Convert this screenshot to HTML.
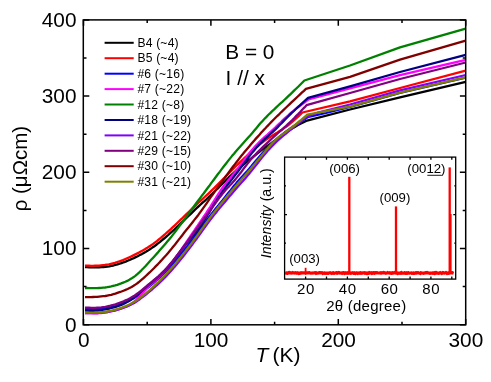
<!DOCTYPE html>
<html><head><meta charset="utf-8"><title>rho(T)</title>
<style>
html,body{margin:0;padding:0;background:#fff;}
body{width:491px;height:382px;overflow:hidden;font-family:"Liberation Sans",sans-serif;}
svg{display:block;will-change:transform;}
svg text{font-family:"Liberation Sans",sans-serif;}
</style></head><body>
<svg width="491" height="382" viewBox="0 0 491 382">
<rect width="491" height="382" fill="#fff"/>
<g fill="none" stroke-width="2.3" stroke-linejoin="round" stroke-linecap="butt">
<path d="M85.0 267.2 L87.0 267.2 L89.1 267.3 L91.1 267.3 L93.1 267.4 L95.1 267.4 L97.2 267.4 L99.2 267.3 L101.2 267.2 L103.3 267.1 L105.3 266.9 L107.3 266.6 L109.3 266.3 L111.4 265.9 L113.4 265.5 L115.4 264.9 L117.5 264.4 L119.5 263.7 L121.5 263.1 L123.5 262.3 L125.6 261.6 L127.6 260.7 L129.6 259.9 L131.7 259.0 L133.7 258.1 L135.7 257.1 L137.7 256.2 L139.8 255.1 L141.8 254.1 L143.8 253.0 L145.9 251.8 L147.9 250.6 L149.9 249.3 L151.9 247.9 L154.0 246.5 L156.0 245.0 L158.0 243.4 L160.1 241.8 L162.1 240.2 L164.1 238.5 L166.1 236.8 L168.2 235.0 L170.2 233.2 L172.2 231.4 L174.3 229.6 L176.3 227.7 L178.3 225.8 L180.3 223.9 L182.4 221.9 L184.4 220.0 L186.4 218.0 L188.5 216.0 L190.5 214.1 L192.5 212.1 L194.5 210.1 L196.6 208.2 L198.6 206.3 L200.6 204.5 L202.6 202.6 L204.7 200.8 L206.7 199.0 L208.7 197.1 L210.8 195.2 L212.8 193.3 L214.8 191.3 L216.8 189.3 L218.9 187.3 L220.9 185.3 L222.9 183.3 L225.0 181.2 L227.0 179.2 L229.0 177.2 L231.0 175.3 L233.1 173.4 L235.1 171.5 L237.1 169.7 L239.2 168.0 L241.2 166.3 L243.2 164.7 L245.2 163.1 L247.3 161.5 L249.3 159.9 L251.3 158.3 L253.4 156.6 L255.4 155.0 L257.4 153.4 L259.4 151.8 L261.5 150.2 L263.5 148.7 L265.5 147.2 L267.6 145.8 L269.6 144.4 L271.6 143.0 L273.6 141.5 L275.7 140.1 L277.7 138.6 L279.7 137.0 L281.8 135.5 L283.8 134.0 L285.8 132.6 L287.8 131.2 L289.9 129.8 L291.9 128.6 L293.9 127.4 L296.0 126.2 L298.0 125.1 L300.0 124.0 L302.0 123.0 L304.1 121.9 L306.1 120.9 L350.0 109.5 L400.0 97.4 L465.7 81.8" stroke="#000000"/>
<path d="M85.0 265.7 L87.0 265.7 L89.0 265.7 L91.0 265.8 L93.0 265.8 L95.0 265.7 L97.0 265.7 L99.0 265.6 L101.0 265.4 L103.0 265.2 L104.9 265.0 L106.9 264.6 L108.9 264.3 L110.9 263.8 L112.9 263.3 L114.9 262.8 L116.9 262.2 L118.9 261.5 L120.9 260.8 L122.9 260.1 L124.9 259.2 L126.9 258.4 L128.9 257.5 L130.9 256.6 L132.9 255.6 L134.9 254.6 L136.9 253.6 L138.9 252.6 L140.8 251.5 L142.8 250.4 L144.8 249.3 L146.8 248.1 L148.8 246.8 L150.8 245.5 L152.8 244.1 L154.8 242.6 L156.8 241.1 L158.8 239.5 L160.8 237.9 L162.8 236.2 L164.8 234.5 L166.8 232.7 L168.8 230.9 L170.8 229.1 L172.8 227.2 L174.8 225.4 L176.7 223.5 L178.7 221.6 L180.7 219.7 L182.7 217.8 L184.7 215.8 L186.7 213.9 L188.7 212.0 L190.7 210.1 L192.7 208.2 L194.7 206.3 L196.7 204.4 L198.7 202.5 L200.7 200.7 L202.7 198.8 L204.7 197.0 L206.7 195.2 L208.7 193.3 L210.7 191.4 L212.6 189.5 L214.6 187.6 L216.6 185.6 L218.6 183.6 L220.6 181.6 L222.6 179.6 L224.6 177.6 L226.6 175.5 L228.6 173.5 L230.6 171.5 L232.6 169.5 L234.6 167.5 L236.6 165.5 L238.6 163.6 L240.6 161.7 L242.6 159.8 L244.6 157.9 L246.6 156.1 L248.5 154.3 L250.5 152.5 L252.5 150.7 L254.5 148.9 L256.5 147.2 L258.5 145.5 L260.5 143.9 L262.5 142.3 L264.5 140.8 L266.5 139.4 L268.5 138.1 L270.5 136.8 L272.5 135.5 L274.5 134.3 L276.5 133.1 L278.5 131.8 L280.5 130.6 L282.5 129.3 L284.4 127.9 L286.4 126.5 L288.4 125.0 L290.4 123.4 L292.4 121.7 L294.4 119.9 L296.4 118.1 L298.4 116.3 L300.4 114.4 L302.4 112.5 L350.0 101.3 L400.0 88.0 L465.7 70.7" stroke="#ff0000"/>
<path d="M85.0 309.0 L87.1 309.0 L89.1 309.1 L91.2 309.1 L93.2 309.1 L95.3 309.1 L97.3 309.1 L99.4 309.0 L101.4 308.8 L103.5 308.6 L105.5 308.3 L107.6 308.0 L109.6 307.6 L111.7 307.1 L113.7 306.6 L115.8 306.0 L117.8 305.3 L119.9 304.6 L121.9 303.9 L124.0 303.0 L126.0 302.2 L128.1 301.2 L130.1 300.2 L132.2 299.1 L134.2 297.9 L136.3 296.6 L138.3 295.1 L140.4 293.6 L142.4 292.0 L144.5 290.4 L146.5 288.7 L148.6 287.0 L150.6 285.3 L152.7 283.6 L154.7 281.8 L156.8 280.0 L158.8 278.2 L160.9 276.3 L162.9 274.3 L165.0 272.2 L167.0 270.1 L169.1 268.0 L171.1 265.7 L173.2 263.4 L175.2 261.0 L177.3 258.6 L179.3 256.1 L181.4 253.6 L183.4 251.0 L185.5 248.5 L187.5 245.9 L189.6 243.3 L191.6 240.7 L193.7 238.1 L195.7 235.4 L197.8 232.6 L199.8 229.9 L201.9 227.0 L203.9 224.2 L206.0 221.3 L208.0 218.5 L210.1 215.7 L212.1 213.1 L214.2 210.5 L216.2 207.9 L218.3 205.4 L220.3 202.9 L222.4 200.4 L224.4 197.9 L226.5 195.3 L228.5 192.8 L230.6 190.2 L232.6 187.6 L234.7 185.1 L236.7 182.6 L238.8 180.3 L240.8 178.0 L242.9 175.7 L244.9 173.5 L247.0 171.2 L249.0 168.9 L251.1 166.5 L253.1 164.1 L255.2 161.6 L257.2 159.2 L259.3 156.7 L261.3 154.4 L263.4 152.0 L265.4 149.8 L267.5 147.7 L269.5 145.6 L271.6 143.7 L273.6 141.7 L275.7 139.9 L277.7 138.1 L279.8 136.4 L281.8 134.8 L283.9 133.2 L285.9 131.6 L288.0 130.1 L290.0 128.7 L292.1 127.3 L294.1 125.9 L296.2 124.5 L298.2 123.2 L300.3 121.9 L302.3 120.6 L304.4 119.3 L306.4 118.1 L308.5 116.8 L326.0 113.0 L350.0 107.0 L400.0 92.9 L465.7 77.6" stroke="#0000ff"/>
<path d="M85.0 313.1 L87.1 313.1 L89.1 313.2 L91.2 313.2 L93.2 313.3 L95.3 313.3 L97.3 313.3 L99.4 313.2 L101.4 313.0 L103.5 312.7 L105.5 312.4 L107.6 312.1 L109.6 311.7 L111.7 311.2 L113.7 310.7 L115.8 310.2 L117.8 309.6 L119.9 308.9 L121.9 308.2 L124.0 307.5 L126.0 306.6 L128.1 305.7 L130.1 304.6 L132.2 303.3 L134.2 301.7 L136.3 299.9 L138.3 297.8 L140.4 295.6 L142.4 293.3 L144.5 290.9 L146.5 288.7 L148.6 286.6 L150.6 284.6 L152.7 282.7 L154.7 280.9 L156.8 279.0 L158.8 277.1 L160.9 275.1 L162.9 273.0 L165.0 270.8 L167.0 268.4 L169.1 266.0 L171.1 263.4 L173.2 260.7 L175.2 258.0 L177.3 255.2 L179.3 252.3 L181.4 249.4 L183.4 246.5 L185.5 243.5 L187.5 240.5 L189.6 237.5 L191.6 234.5 L193.7 231.5 L195.7 228.4 L197.8 225.4 L199.8 222.4 L201.9 219.4 L203.9 216.4 L206.0 213.3 L208.0 210.2 L210.1 207.1 L212.1 203.9 L214.2 200.6 L216.2 197.4 L218.3 194.1 L220.3 191.0 L222.4 188.0 L224.4 185.1 L226.5 182.5 L228.5 179.9 L230.6 177.5 L232.6 175.0 L234.7 172.6 L236.7 170.0 L238.8 167.4 L240.8 164.6 L242.9 161.8 L244.9 159.0 L247.0 156.3 L249.0 153.6 L251.1 151.1 L253.1 148.7 L255.2 146.4 L257.2 144.2 L259.3 142.1 L261.3 140.1 L263.4 138.2 L265.4 136.3 L267.5 134.5 L269.5 132.6 L271.6 130.8 L273.6 129.0 L275.7 127.1 L277.7 125.1 L279.8 123.2 L281.8 121.2 L283.9 119.2 L285.9 117.3 L288.0 115.5 L290.0 113.7 L292.1 111.9 L294.1 110.3 L296.2 108.6 L298.2 107.0 L300.3 105.5 L302.3 104.0 L304.4 102.5 L306.4 101.0 L308.5 99.5 L350.0 88.4 L400.0 75.2 L465.7 59.8" stroke="#ff00ff"/>
<path d="M85.0 288.0 L87.0 288.0 L89.0 288.1 L91.0 288.1 L93.1 288.1 L95.1 288.1 L97.1 288.1 L99.1 288.0 L101.1 287.9 L103.1 287.7 L105.1 287.5 L107.1 287.2 L109.2 286.8 L111.2 286.4 L113.2 285.9 L115.2 285.4 L117.2 284.8 L119.2 284.1 L121.2 283.4 L123.2 282.6 L125.3 281.8 L127.3 280.9 L129.3 279.8 L131.3 278.6 L133.3 277.3 L135.3 275.8 L137.3 274.1 L139.3 272.3 L141.4 270.3 L143.4 268.3 L145.4 266.2 L147.4 264.0 L149.4 261.8 L151.4 259.6 L153.4 257.4 L155.4 255.2 L157.5 252.9 L159.5 250.6 L161.5 248.3 L163.5 246.0 L165.5 243.7 L167.5 241.3 L169.5 238.9 L171.6 236.4 L173.6 233.9 L175.6 231.3 L177.6 228.6 L179.6 225.9 L181.6 223.2 L183.6 220.5 L185.6 217.7 L187.7 215.0 L189.7 212.2 L191.7 209.5 L193.7 206.8 L195.7 204.0 L197.7 201.3 L199.7 198.6 L201.7 195.9 L203.8 193.2 L205.8 190.5 L207.8 187.8 L209.8 185.2 L211.8 182.4 L213.8 179.7 L215.8 177.0 L217.8 174.3 L219.9 171.6 L221.9 168.9 L223.9 166.3 L225.9 163.7 L227.9 161.1 L229.9 158.6 L231.9 156.1 L234.0 153.7 L236.0 151.3 L238.0 149.0 L240.0 146.8 L242.0 144.6 L244.0 142.3 L246.0 140.1 L248.0 137.8 L250.1 135.5 L252.1 133.2 L254.1 130.8 L256.1 128.4 L258.1 126.0 L260.1 123.6 L262.1 121.4 L264.1 119.2 L266.2 117.1 L268.2 115.0 L270.2 113.1 L272.2 111.1 L274.2 109.3 L276.2 107.4 L278.2 105.5 L280.2 103.7 L282.3 101.9 L284.3 100.0 L286.3 98.1 L288.3 96.2 L290.3 94.3 L292.3 92.4 L294.3 90.4 L296.3 88.5 L298.4 86.5 L300.4 84.5 L302.4 82.5 L304.4 80.5 L350.0 65.5 L400.0 47.4 L465.7 28.7" stroke="#008000"/>
<path d="M85.0 310.8 L87.0 310.8 L89.1 310.8 L91.1 310.8 L93.2 310.8 L95.2 310.7 L97.3 310.6 L99.3 310.3 L101.4 310.1 L103.4 309.7 L105.5 309.4 L107.5 308.9 L109.6 308.5 L111.6 308.0 L113.7 307.4 L115.7 306.8 L117.7 306.2 L119.8 305.4 L121.8 304.6 L123.9 303.6 L125.9 302.6 L128.0 301.4 L130.0 300.2 L132.1 298.8 L134.1 297.3 L136.2 295.7 L138.2 294.0 L140.3 292.2 L142.3 290.4 L144.4 288.6 L146.4 286.8 L148.5 285.0 L150.5 283.3 L152.5 281.6 L154.6 279.9 L156.6 278.2 L158.7 276.4 L160.7 274.5 L162.8 272.5 L164.8 270.5 L166.9 268.3 L168.9 266.0 L171.0 263.6 L173.0 261.1 L175.1 258.4 L177.1 255.7 L179.2 253.0 L181.2 250.2 L183.2 247.6 L185.3 245.0 L187.3 242.5 L189.4 240.2 L191.4 237.8 L193.5 235.5 L195.5 233.0 L197.6 230.4 L199.6 227.6 L201.7 224.6 L203.7 221.4 L205.8 218.0 L207.8 214.7 L209.9 211.3 L211.9 207.9 L213.9 204.6 L216.0 201.3 L218.0 198.2 L220.1 195.1 L222.1 192.1 L224.2 189.3 L226.2 186.5 L228.3 183.8 L230.3 181.2 L232.4 178.6 L234.4 176.0 L236.5 173.4 L238.5 170.7 L240.6 167.9 L242.6 165.2 L244.6 162.4 L246.7 159.7 L248.7 157.0 L250.8 154.4 L252.8 151.9 L254.9 149.4 L256.9 147.1 L259.0 144.8 L261.0 142.7 L263.1 140.6 L265.1 138.7 L267.2 136.8 L269.2 135.0 L271.3 133.2 L273.3 131.3 L275.4 129.4 L277.4 127.4 L279.4 125.3 L281.5 123.2 L283.5 121.1 L285.6 119.0 L287.6 117.0 L289.7 114.9 L291.7 112.9 L293.8 111.0 L295.8 109.0 L297.9 107.1 L299.9 105.3 L302.0 103.4 L304.0 101.5 L306.1 99.7 L308.1 97.8 L350.0 86.3 L400.0 72.0 L465.7 54.9" stroke="#000080"/>
<path d="M85.0 313.0 L87.0 313.0 L89.1 313.0 L91.1 313.1 L93.1 313.1 L95.2 313.1 L97.2 313.0 L99.2 312.9 L101.2 312.7 L103.3 312.5 L105.3 312.3 L107.3 312.0 L109.4 311.6 L111.4 311.2 L113.4 310.8 L115.5 310.3 L117.5 309.7 L119.5 309.1 L121.5 308.5 L123.6 307.8 L125.6 307.0 L127.6 306.2 L129.7 305.3 L131.7 304.3 L133.7 303.2 L135.8 302.0 L137.8 300.6 L139.8 299.2 L141.8 297.7 L143.9 296.1 L145.9 294.5 L147.9 292.9 L150.0 291.2 L152.0 289.5 L154.0 287.7 L156.1 285.9 L158.1 284.1 L160.1 282.2 L162.2 280.2 L164.2 278.2 L166.2 276.1 L168.2 274.0 L170.3 271.8 L172.3 269.5 L174.3 267.1 L176.4 264.8 L178.4 262.3 L180.4 259.8 L182.5 257.3 L184.5 254.7 L186.5 252.1 L188.5 249.5 L190.6 246.8 L192.6 244.2 L194.6 241.4 L196.7 238.7 L198.7 235.9 L200.7 233.1 L202.8 230.2 L204.8 227.4 L206.8 224.6 L208.8 221.8 L210.9 219.1 L212.9 216.5 L214.9 213.9 L217.0 211.4 L219.0 208.9 L221.0 206.5 L223.1 204.1 L225.1 201.7 L227.1 199.2 L229.1 196.8 L231.2 194.4 L233.2 192.0 L235.2 189.7 L237.3 187.3 L239.3 185.0 L241.3 182.8 L243.4 180.5 L245.4 178.2 L247.4 175.8 L249.5 173.4 L251.5 170.9 L253.5 168.4 L255.5 165.8 L257.6 163.2 L259.6 160.6 L261.6 158.1 L263.7 155.6 L265.7 153.2 L267.7 150.8 L269.8 148.6 L271.8 146.4 L273.8 144.4 L275.8 142.4 L277.9 140.5 L279.9 138.7 L281.9 136.9 L284.0 135.2 L286.0 133.5 L288.0 131.9 L290.1 130.2 L292.1 128.5 L294.1 126.9 L296.1 125.2 L298.2 123.6 L300.2 121.9 L302.2 120.3 L304.3 118.6 L306.3 117.0 L318.0 112.6 L350.0 104.5 L400.0 90.3 L465.7 75.0" stroke="#8000ff"/>
<path d="M85.0 307.7 L87.0 307.7 L89.1 307.7 L91.1 307.8 L93.1 307.8 L95.2 307.8 L97.2 307.7 L99.2 307.6 L101.3 307.4 L103.3 307.1 L105.3 306.8 L107.4 306.4 L109.4 306.0 L111.4 305.4 L113.4 304.9 L115.5 304.3 L117.5 303.6 L119.5 302.9 L121.6 302.1 L123.6 301.3 L125.6 300.4 L127.7 299.5 L129.7 298.4 L131.7 297.3 L133.8 296.1 L135.8 294.7 L137.8 293.3 L139.9 291.7 L141.9 290.1 L143.9 288.4 L146.0 286.7 L148.0 285.0 L150.0 283.3 L152.1 281.7 L154.1 280.0 L156.1 278.3 L158.2 276.5 L160.2 274.6 L162.2 272.6 L164.3 270.6 L166.3 268.4 L168.3 266.2 L170.3 263.8 L172.4 261.4 L174.4 258.9 L176.4 256.4 L178.5 253.8 L180.5 251.1 L182.5 248.4 L184.6 245.6 L186.6 242.8 L188.6 240.0 L190.7 237.1 L192.7 234.3 L194.7 231.4 L196.8 228.6 L198.8 225.8 L200.8 223.0 L202.9 220.2 L204.9 217.5 L206.9 214.8 L209.0 212.0 L211.0 209.2 L213.0 206.4 L215.1 203.6 L217.1 200.9 L219.1 198.1 L221.2 195.5 L223.2 192.9 L225.2 190.5 L227.2 188.3 L229.3 186.1 L231.3 183.9 L233.3 181.7 L235.4 179.4 L237.4 176.9 L239.4 174.3 L241.5 171.7 L243.5 168.9 L245.5 166.2 L247.6 163.6 L249.6 161.0 L251.6 158.6 L253.7 156.4 L255.7 154.2 L257.7 152.1 L259.8 150.1 L261.8 148.1 L263.8 146.1 L265.9 144.2 L267.9 142.3 L269.9 140.4 L272.0 138.5 L274.0 136.6 L276.0 134.8 L278.1 133.0 L280.1 131.2 L282.1 129.5 L284.1 127.7 L286.2 125.8 L288.2 123.9 L290.2 122.0 L292.3 120.0 L294.3 118.0 L296.3 115.9 L298.4 113.8 L300.4 111.7 L302.4 109.5 L304.5 107.4 L306.5 105.2 L350.0 93.0 L400.0 79.0 L465.7 62.5" stroke="#800080"/>
<path d="M85.0 297.2 L87.0 297.2 L89.1 297.1 L91.1 297.1 L93.1 297.0 L95.1 296.9 L97.2 296.8 L99.2 296.6 L101.2 296.4 L103.2 296.2 L105.3 296.0 L107.3 295.6 L109.3 295.2 L111.3 294.8 L113.4 294.2 L115.4 293.6 L117.4 292.9 L119.5 292.2 L121.5 291.5 L123.5 290.7 L125.5 289.9 L127.6 289.0 L129.6 288.0 L131.6 287.0 L133.6 285.8 L135.7 284.4 L137.7 283.0 L139.7 281.4 L141.7 279.7 L143.8 277.9 L145.8 276.0 L147.8 274.1 L149.9 272.2 L151.9 270.2 L153.9 268.2 L155.9 266.1 L158.0 264.1 L160.0 261.9 L162.0 259.8 L164.0 257.5 L166.1 255.3 L168.1 253.0 L170.1 250.6 L172.1 248.1 L174.2 245.6 L176.2 243.0 L178.2 240.4 L180.3 237.8 L182.3 235.2 L184.3 232.5 L186.3 230.0 L188.4 227.5 L190.4 225.0 L192.4 222.5 L194.4 219.9 L196.5 217.3 L198.5 214.7 L200.5 211.9 L202.5 209.1 L204.6 206.2 L206.6 203.3 L208.6 200.4 L210.6 197.4 L212.7 194.6 L214.7 191.7 L216.7 188.9 L218.8 186.1 L220.8 183.3 L222.8 180.6 L224.8 177.8 L226.9 175.0 L228.9 172.3 L230.9 169.5 L232.9 166.8 L235.0 164.1 L237.0 161.5 L239.0 158.9 L241.0 156.3 L243.1 153.8 L245.1 151.3 L247.1 148.9 L249.2 146.5 L251.2 144.1 L253.2 141.7 L255.2 139.4 L257.3 137.1 L259.3 134.9 L261.3 132.6 L263.3 130.4 L265.4 128.3 L267.4 126.1 L269.4 124.0 L271.4 121.9 L273.5 119.8 L275.5 117.8 L277.5 115.8 L279.6 113.8 L281.6 111.8 L283.6 109.9 L285.6 108.0 L287.7 106.0 L289.7 104.1 L291.7 102.2 L293.7 100.3 L295.8 98.4 L297.8 96.5 L299.8 94.6 L301.8 92.7 L303.9 90.8 L305.9 88.9 L350.0 76.8 L400.0 59.7 L465.7 40.6" stroke="#800000"/>
<path d="M85.0 312.5 L87.0 312.5 L89.1 312.6 L91.1 312.6 L93.2 312.7 L95.2 312.7 L97.2 312.7 L99.3 312.6 L101.3 312.4 L103.4 312.2 L105.4 311.9 L107.4 311.5 L109.5 311.1 L111.5 310.7 L113.6 310.2 L115.6 309.6 L117.6 309.0 L119.7 308.4 L121.7 307.7 L123.7 306.9 L125.8 306.1 L127.8 305.2 L129.9 304.3 L131.9 303.2 L133.9 302.1 L136.0 300.8 L138.0 299.4 L140.1 297.9 L142.1 296.4 L144.1 294.7 L146.2 293.0 L148.2 291.3 L150.3 289.5 L152.3 287.7 L154.3 285.8 L156.4 283.9 L158.4 282.0 L160.5 279.9 L162.5 277.9 L164.5 275.7 L166.6 273.6 L168.6 271.3 L170.7 269.1 L172.7 266.7 L174.7 264.4 L176.8 261.9 L178.8 259.5 L180.9 257.0 L182.9 254.4 L184.9 251.9 L187.0 249.2 L189.0 246.6 L191.1 243.9 L193.1 241.2 L195.1 238.4 L197.2 235.6 L199.2 232.8 L201.2 229.9 L203.3 227.1 L205.3 224.2 L207.4 221.4 L209.4 218.6 L211.4 215.8 L213.5 213.2 L215.5 210.6 L217.6 208.0 L219.6 205.5 L221.6 203.0 L223.7 200.5 L225.7 198.1 L227.8 195.6 L229.8 193.2 L231.8 190.7 L233.9 188.3 L235.9 185.9 L238.0 183.5 L240.0 181.2 L242.0 178.8 L244.1 176.5 L246.1 174.2 L248.2 171.8 L250.2 169.5 L252.2 167.0 L254.3 164.6 L256.3 162.1 L258.4 159.7 L260.4 157.2 L262.4 154.7 L264.5 152.2 L266.5 149.7 L268.6 147.3 L270.6 145.0 L272.6 142.8 L274.7 140.7 L276.7 138.9 L278.7 137.2 L280.8 135.6 L282.8 134.1 L284.9 132.6 L286.9 131.1 L288.9 129.6 L291.0 128.1 L293.0 126.5 L295.1 124.9 L297.1 123.2 L299.1 121.5 L301.2 119.8 L303.2 118.1 L305.3 116.3 L307.3 114.6 L350.0 106.7 L400.0 92.6 L465.7 77.3" stroke="#808000"/>
</g>
<g stroke="#000" stroke-width="1.50" fill="none">
<rect x="83.3" y="19.9" width="382.4" height="304.9"/>
<path d="M83.5 324.8v-5.8 M83.5 19.9v5.8 M147.2 324.8v-3.0 M147.2 19.9v3.0 M210.9 324.8v-5.8 M210.9 19.9v5.8 M274.6 324.8v-3.0 M274.6 19.9v3.0 M338.3 324.8v-5.8 M338.3 19.9v5.8 M402.0 324.8v-3.0 M402.0 19.9v3.0 M465.7 324.8v-5.8 M465.7 19.9v5.8 M83.5 324.8h5.8 M465.7 324.8h-5.8 M83.5 286.6h3.0 M465.7 286.6h-3.0 M83.5 248.5h5.8 M465.7 248.5h-5.8 M83.5 210.4h3.0 M465.7 210.4h-3.0 M83.5 172.3h5.8 M465.7 172.3h-5.8 M83.5 134.2h3.0 M465.7 134.2h-3.0 M83.5 96.1h5.8 M465.7 96.1h-5.8 M83.5 58.0h3.0 M465.7 58.0h-3.0 M83.5 19.9h5.8 M465.7 19.9h-5.8 "/>
</g>
<g font-family="Liberation Sans, sans-serif" font-size="20.8" fill="#000">
<text x="83.7" y="347.4" text-anchor="middle">0</text>
<text x="211.1" y="347.4" text-anchor="middle">100</text>
<text x="338.5" y="347.4" text-anchor="middle">200</text>
<text x="465.9" y="347.4" text-anchor="middle">300</text>
<text x="76.5" y="331.6" text-anchor="end">0</text>
<text x="76.5" y="255.4" text-anchor="end">100</text>
<text x="76.5" y="179.2" text-anchor="end">200</text>
<text x="76.5" y="103.0" text-anchor="end">300</text>
<text x="76.5" y="26.8" text-anchor="end">400</text>
<text x="255.6" y="362.2" font-size="21"><tspan font-style="italic">T</tspan><tspan dx="-1.8"> (K)</tspan></text>
<text transform="translate(27.3 168.6) rotate(-90)" text-anchor="middle" font-size="20.5">ρ (μΩcm)</text>
<text x="225.3" y="59.2">B = 0</text>
<text x="225.6" y="84.8">I // x</text>
</g>
<g font-family="Liberation Sans, sans-serif" font-size="12.1" letter-spacing="0.2" fill="#000">
<path d="M104.6 42.8H133.7" stroke="#000000" stroke-width="2" fill="none"/>
<text x="137.4" y="47.0">B4 (~4)</text>
<path d="M104.6 58.2H133.7" stroke="#ff0000" stroke-width="2" fill="none"/>
<text x="137.4" y="62.4">B5 (~4)</text>
<path d="M104.6 73.7H133.7" stroke="#0000ff" stroke-width="2" fill="none"/>
<text x="137.4" y="77.9">#6 (~16)</text>
<path d="M104.6 89.1H133.7" stroke="#ff00ff" stroke-width="2" fill="none"/>
<text x="137.4" y="93.3">#7 (~22)</text>
<path d="M104.6 104.5H133.7" stroke="#008000" stroke-width="2" fill="none"/>
<text x="137.4" y="108.7">#12 (~8)</text>
<path d="M104.6 120.0H133.7" stroke="#000080" stroke-width="2" fill="none"/>
<text x="137.4" y="124.2">#18 (~19)</text>
<path d="M104.6 135.4H133.7" stroke="#8000ff" stroke-width="2" fill="none"/>
<text x="137.4" y="139.6">#21 (~22)</text>
<path d="M104.6 150.8H133.7" stroke="#800080" stroke-width="2" fill="none"/>
<text x="137.4" y="155.0">#29 (~15)</text>
<path d="M104.6 166.2H133.7" stroke="#800000" stroke-width="2" fill="none"/>
<text x="137.4" y="170.4">#30 (~10)</text>
<path d="M104.6 181.7H133.7" stroke="#808000" stroke-width="2" fill="none"/>
<text x="137.4" y="185.9">#31 (~21)</text>
</g>
<rect x="284.6" y="157.1" width="171.1" height="122.0" fill="#fff" stroke="none"/>
<path d="M285.4 273.1 L285.9 273.6 L286.3 272.4 L286.8 273.0 L287.2 274.1 L287.6 274.1 L288.1 272.0 L288.5 272.2 L289.0 271.7 L289.4 272.8 L289.9 271.7 L290.3 272.9 L290.8 273.4 L291.2 272.4 L291.7 273.5 L292.1 273.3 L292.6 271.7 L293.0 273.2 L293.5 272.3 L293.9 272.8 L294.4 272.4 L294.8 273.5 L295.3 272.8 L295.7 272.0 L296.2 273.1 L296.6 273.8 L297.1 272.5 L297.5 272.2 L298.0 272.7 L298.4 274.2 L298.9 274.3 L299.3 273.5 L299.8 274.1 L300.2 274.0 L300.7 272.7 L301.1 271.9 L301.6 273.4 L302.0 273.2 L302.5 272.6 L302.9 272.2 L303.4 272.7 L303.8 272.9 L304.3 272.4 L304.7 272.4 L305.2 272.9 L305.6 274.0 L306.1 273.2 L306.5 272.4 L307.0 272.4 L307.4 272.9 L307.9 272.2 L308.3 272.2 L308.8 273.0 L309.2 271.8 L309.7 273.0 L310.1 272.6 L310.6 273.6 L311.0 273.7 L311.5 273.5 L311.9 273.5 L312.4 272.6 L312.8 273.5 L313.3 272.6 L313.7 273.2 L314.2 272.5 L314.6 272.8 L315.1 271.8 L315.5 272.3 L316.0 274.3 L316.4 272.2 L316.9 273.5 L317.3 273.4 L317.8 273.6 L318.2 272.9 L318.7 273.3 L319.1 271.8 L319.6 271.8 L320.0 272.2 L320.5 272.0 L320.9 271.9 L321.4 272.0 L321.8 273.1 L322.3 272.1 L322.7 274.3 L323.2 273.5 L323.6 273.1 L324.1 273.6 L324.5 272.3 L325.0 274.2 L325.4 273.9 L325.9 273.6 L326.3 272.9 L326.8 274.0 L327.2 273.7 L327.7 273.4 L328.1 274.2 L328.6 273.4 L329.0 272.6 L329.5 273.1 L329.9 272.1 L330.4 272.1 L330.8 273.6 L331.3 273.8 L331.7 274.3 L332.2 274.0 L332.6 273.1 L333.1 271.9 L333.5 273.0 L334.0 274.2 L334.4 273.8 L334.9 273.0 L335.3 272.9 L335.8 272.2 L336.2 272.1 L336.7 271.8 L337.1 274.1 L337.6 273.4 L338.0 272.0 L338.5 272.8 L338.9 271.7 L339.4 272.2 L339.8 273.6 L340.3 273.4 L340.7 272.9 L341.2 272.4 L341.6 273.4 L342.1 274.3 L342.5 272.8 L343.0 271.8 L343.4 271.8 L343.9 271.8 L344.3 274.3 L344.8 273.1 L345.2 273.9 L345.7 272.1 L346.1 272.3 L346.6 273.5 L347.0 274.1 L347.5 272.6 L347.9 271.8 L348.4 274.0 L348.8 272.4 L349.3 273.7 L349.7 272.0 L350.2 273.5 L350.6 274.0 L351.1 273.6 L351.5 272.6 L352.0 273.6 L352.4 272.0 L352.9 272.5 L353.3 272.8 L353.8 274.1 L354.2 272.0 L354.7 274.1 L355.1 273.8 L355.6 274.3 L356.0 272.6 L356.5 272.2 L356.9 272.3 L357.4 273.9 L357.8 274.3 L358.3 273.6 L358.7 273.0 L359.2 272.4 L359.6 273.9 L360.1 274.0 L360.5 271.9 L361.0 272.2 L361.4 273.9 L361.9 274.0 L362.3 272.5 L362.8 272.4 L363.2 272.8 L363.7 273.1 L364.1 271.9 L364.6 273.9 L365.0 273.1 L365.5 273.8 L365.9 272.2 L366.4 274.3 L366.8 273.7 L367.3 272.6 L367.7 274.3 L368.2 273.6 L368.6 274.0 L369.1 271.7 L369.5 271.8 L370.0 273.7 L370.4 272.5 L370.9 273.0 L371.3 272.0 L371.8 274.3 L372.2 273.0 L372.7 273.9 L373.1 271.8 L373.6 272.9 L374.0 271.8 L374.5 274.1 L374.9 272.8 L375.4 271.8 L375.8 271.8 L376.3 273.1 L376.7 271.8 L377.2 272.1 L377.6 272.8 L378.1 273.0 L378.5 273.2 L379.0 273.3 L379.4 272.6 L379.9 273.3 L380.3 272.0 L380.8 272.4 L381.2 273.8 L381.7 272.0 L382.1 272.2 L382.6 272.3 L383.0 272.9 L383.5 271.6 L383.9 271.7 L384.4 272.9 L384.8 272.1 L385.3 273.5 L385.7 273.8 L386.2 273.2 L386.6 273.5 L387.1 272.7 L387.5 271.7 L388.0 272.8 L388.4 272.6 L388.9 273.3 L389.3 272.0 L389.8 272.2 L390.2 273.9 L390.7 272.3 L391.1 272.7 L391.6 274.2 L392.0 272.4 L392.5 272.0 L392.9 273.6 L393.4 273.2 L393.8 273.3 L394.3 271.7 L394.7 272.8 L395.2 271.6 L395.6 272.3 L396.1 273.6 L396.5 271.8 L397.0 272.4 L397.4 274.4 L397.9 274.3 L398.3 272.9 L398.8 273.7 L399.2 273.4 L399.7 272.9 L400.1 274.0 L400.6 272.1 L401.0 273.9 L401.5 271.7 L401.9 274.0 L402.4 273.5 L402.8 272.8 L403.3 273.5 L403.7 272.9 L404.2 273.8 L404.6 271.9 L405.1 273.0 L405.5 274.0 L406.0 274.2 L406.4 272.2 L406.9 272.3 L407.3 274.1 L407.8 272.6 L408.2 271.8 L408.7 273.6 L409.1 272.8 L409.6 273.7 L410.0 272.9 L410.5 273.0 L410.9 272.8 L411.4 272.4 L411.8 274.1 L412.3 273.5 L412.7 273.8 L413.2 274.1 L413.6 272.3 L414.1 274.2 L414.5 274.0 L415.0 273.0 L415.4 273.2 L415.9 271.9 L416.3 273.7 L416.8 272.1 L417.2 273.1 L417.7 272.0 L418.1 271.8 L418.6 273.3 L419.0 273.0 L419.5 273.5 L419.9 273.8 L420.4 274.4 L420.8 271.8 L421.3 273.4 L421.7 273.2 L422.2 273.4 L422.6 273.1 L423.1 273.2 L423.5 274.0 L424.0 272.9 L424.4 273.1 L424.9 273.5 L425.3 271.9 L425.8 272.8 L426.2 271.9 L426.7 272.0 L427.1 271.6 L427.6 272.2 L428.0 272.2 L428.5 273.0 L428.9 273.2 L429.4 273.9 L429.8 273.0 L430.3 274.1 L430.7 272.7 L431.2 273.7 L431.6 273.1 L432.1 273.3 L432.5 272.4 L433.0 274.2 L433.4 273.8 L433.9 272.0 L434.3 273.1 L434.8 274.4 L435.2 271.7 L435.7 272.4 L436.1 273.7 L436.6 271.7 L437.0 273.7 L437.5 273.2 L437.9 273.6 L438.4 273.1 L438.8 274.2 L439.3 272.6 L439.7 273.2 L440.2 271.7 L440.6 273.1 L441.1 272.8 L441.5 274.4 L442.0 274.2 L442.4 272.0 L442.9 271.7 L443.3 271.9 L443.8 272.1 L444.2 273.6 L444.7 273.1 L445.1 273.1 L445.6 272.9 L446.0 271.6 L446.5 272.7 L446.9 274.4 L447.4 273.9 L447.8 273.2 L448.3 272.2 L448.7 274.2 L449.2 272.8 L449.6 273.3 L450.1 272.2 L450.5 272.5 L451.0 272.6 L451.4 272.7 L451.9 271.7 L452.3 273.4 L452.8 272.1 L453.2 273.3" stroke="#ff0000" stroke-width="1.7" fill="none" stroke-linejoin="round"/>
<path d="M285.4 273.0H453.4" stroke="#ff0000" stroke-width="3.0" fill="none"/>
<path d="M305.6 273.0V267.8" stroke="#ff0000" stroke-width="1.8" fill="none"/>
<path d="M349.3 273.0V176.8" stroke="#ff0000" stroke-width="2.3" fill="none"/>
<path d="M396.0 273.0V206.4" stroke="#ff0000" stroke-width="2.3" fill="none"/>
<path d="M449.7 273.0V167.4" stroke="#ff0000" stroke-width="2.3" fill="none"/>
<path d="M450.8 273.0V214.0" stroke="#ff0000" stroke-width="1.6" fill="none"/>
<g stroke="#000" stroke-width="1.3" fill="none">
<rect x="284.6" y="157.1" width="171.1" height="122.0"/>
<path d="M305.6 279.1v-2.6 M305.6 157.1v2.6 M326.5 279.1v-2.6 M326.5 157.1v2.6 M347.4 279.1v-2.6 M347.4 157.1v2.6 M368.3 279.1v-2.6 M368.3 157.1v2.6 M389.2 279.1v-2.6 M389.2 157.1v2.6 M410.1 279.1v-2.6 M410.1 157.1v2.6 M430.9 279.1v-2.6 M430.9 157.1v2.6 M451.8 279.1v-2.6 M451.8 157.1v2.6 M284.6 243.2h1.4 M455.7 243.2h-1.4 M284.6 214.7h2.4 M455.7 214.7h-2.4 M284.6 185.8h1.4 M455.7 185.8h-1.4 "/>
</g>
<g font-family="Liberation Sans, sans-serif" fill="#000">
<g font-size="15" text-anchor="middle">
<text x="306.0" y="293.9" letter-spacing="0.6">20</text>
<text x="347.8" y="293.9" letter-spacing="0.6">40</text>
<text x="389.6" y="293.9" letter-spacing="0.6">60</text>
<text x="431.3" y="293.9" letter-spacing="0.6">80</text>
<text x="366.3" y="311.2" letter-spacing="0.25">2θ (degree)</text>
<text transform="translate(271.0 213.2) rotate(-90)" font-size="14.2"><tspan font-style="italic">Intensity</tspan> (a.u.)</text>
</g>
<g font-size="13.2" text-anchor="middle">
<text x="304.6" y="262.8">(003)</text>
<text x="344.6" y="172.8">(006)</text>
<text x="394.9" y="202.0">(009)</text>
<text x="426.4" y="172.8">(0012)</text>
</g>
<path d="M427.3 175.3H441.5" stroke="#000" stroke-width="0.9"/>
</g>
</svg>
</body></html>
